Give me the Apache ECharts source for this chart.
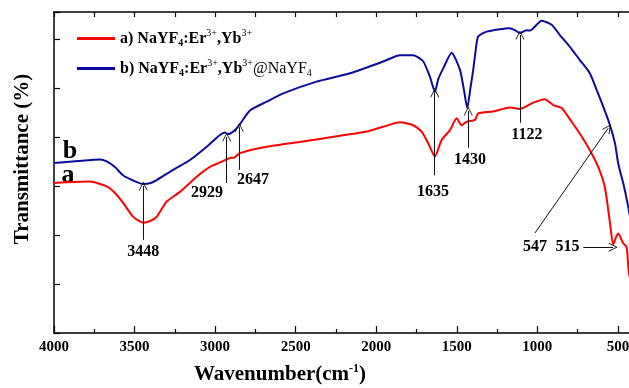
<!DOCTYPE html>
<html lang="en">
<head>
    <meta charset="UTF-8">
    <title>FTIR</title>
    <style>
        html,body{
            height: 100%;
        }
        body{
            margin: 0;
            padding: 0;
            background: #fff;
        }
        #chart_ftir{
            width: 629px;
            height: 388px;
        }
    </style>
</head>
<body>
    <div id="chart_ftir"></div>
</body>
</html>
<script src="https://cdn.jsdelivr.net/npm/echarts@6/dist/echarts.min.js"></script>
<script>
    // wavenumber ticks (cm-1)
    var majorTicks = [500, 1000, 1500, 2000, 2500, 3000, 3500, 4000];
    var minorTicks = [750, 1250, 1750, 2250, 2750, 3250, 3750];
    var allTicks = majorTicks.concat(minorTicks);

    // a) NaYF4:Er,Yb  [wavenumber, transmittance]
    var curveA = [
        [4000, 30.6], [3777, 30.9], [3673, 29.9], [3620, 28.5], [3570, 26.5], [3508, 23.7],
        [3446, 22.5], [3400, 22.9], [3363, 23.7], [3301, 26.8], [3218, 28.8], [3114, 31.9],
        [3032, 33.9], [2970, 34.8], [2908, 35.7], [2880, 35.8], [2846, 36.7], [2680, 38.0],
        [2370, 39.5], [2059, 41.1], [1956, 42.1], [1853, 43.0], [1770, 42.4], [1718, 41.1],
        [1677, 38.7], [1636, 36.0], [1594, 39.4], [1542, 41.4], [1501, 43.8], [1470, 42.4],
        [1439, 43.1], [1387, 43.5], [1367, 44.8], [1274, 45.2], [1170, 46.0], [1108, 45.7],
        [1025, 47.0], [953, 47.7], [901, 46.5], [849, 45.9], [787, 43.1], [725, 40.1],
        [674, 37.3], [622, 33.9], [580, 29.6], [549, 22.4], [529, 18.0], [512, 19.5],
        [498, 20.3], [467, 18.3], [446, 17.6], [432, 12.4], [400, 8.0]
    ];

    // b) NaYF4:Er,Yb@NaYF4
    var curveB = [
        [4000, 34.7], [3850, 35.1], [3714, 35.4], [3673, 35.0], [3620, 33.8], [3572, 32.2],
        [3500, 31.0], [3446, 30.4], [3400, 30.6], [3363, 31.2], [3260, 33.3], [3156, 35.3],
        [3052, 38.0], [2970, 40.4], [2939, 40.9], [2918, 40.6], [2880, 41.3], [2850, 42.4],
        [2784, 45.4], [2680, 47.2], [2577, 48.9], [2370, 51.3], [2163, 53.0], [1956, 55.4],
        [1853, 56.7], [1770, 56.7], [1708, 55.4], [1667, 52.3], [1650, 50.5], [1636, 49.2],
        [1615, 51.8], [1584, 54.0], [1532, 57.2], [1480, 53.7], [1455, 49.5], [1435, 45.9],
        [1415, 50.0], [1398, 53.7], [1377, 59.1], [1367, 60.5], [1315, 61.5], [1170, 62.2],
        [1139, 61.8], [1108, 61.2], [1067, 61.8], [1046, 61.7], [973, 63.7], [911, 62.9],
        [860, 60.8], [798, 58.4], [736, 55.7], [674, 53.0], [632, 49.6], [591, 46.2],
        [549, 42.4], [518, 38.7], [498, 34.6], [467, 30.6], [436, 25.8], [400, 19.0]
    ];

    // peak annotations
    var noteText = ['3448', '2929', '2647', '1635', '1430', '1122', '547', '515'];
    var noteAt = [[3446, 16.5], [3050, 28.6], [2765, 31.2], [1648, 28.8], [1418, 35.3], [1065, 40.4], [1015, 17.6], [812, 17.6]];
    var arrowFrom = [[3446, 19.0], [2928, 30.6], [2850, 33.3], [1637, 32.2], [1429, 37.8], [1108, 42.9], [1015, 20.4], [715, 17.5]];
    var arrowTo = [[3446, 30.0], [2928, 40.0], [2850, 42.0], [1637, 49.0], [1429, 45.3], [1108, 60.8], [560, 41.8], [529, 17.5]];
    var curveTags = [['a', 3913, 32.2], ['b', 3901, 37.0]];

    var nameA = 'a';
    var nameB = 'b';
    var FONT = "'Liberation Serif', 'Times New Roman', serif";

    var richText = {
        t: {fontFamily: FONT, fontWeight: 'bold', fontSize: 16, color: '#000', lineHeight: 22},
        n: {fontFamily: FONT, fontWeight: 'normal', fontSize: 16, color: '#000', lineHeight: 22},
        sup: {fontFamily: FONT, fontWeight: 'normal', fontSize: 10, color: '#000', padding: [0, 0, 11, 0]},
        sub: {fontFamily: FONT, fontWeight: 'bold', fontSize: 10, color: '#000', padding: [9, 0, 0, 0]},
        bsub: {fontFamily: FONT, fontWeight: 'normal', fontSize: 10, color: '#000', padding: [9, 0, 0, 0]}
    };

    var legendLabel = {};
    legendLabel[nameA] = '{t|a) NaYF}{sub|4}{t|:Er}{sup|3+}{t|,Yb}{sup|3+}';
    legendLabel[nameB] = '{t|b) NaYF}{sub|4}{t|:Er}{sup|3+}{t|,Yb}{sup|3+}{n|@NaYF}{bsub|4}';

    var notePoints = noteText.map(function (t, i) {
        return [noteAt[i][0], noteAt[i][1], t];
    });
    curveTags.forEach(function (c) {
        notePoints.push({value: [c[1], c[2], c[0]], label: {fontSize: 26}});
    });
    var arrows = arrowFrom.map(function (p, i) {
        return [{coord: p}, {coord: arrowTo[i]}];
    });

    var axisLineStyle = {color: '#000', width: 1.5};

    var myChart = echarts.init(document.getElementById('chart_ftir'));

    myChart.setOption({
        animation: false,
        grid: {
            left: 54,
            right: -5,
            top: 12,
            bottom: 55,
            outerBoundsMode: 'none'
        },
        legend: {
            orient: 'vertical',
            left: 72,
            top: 23,
            itemWidth: 38,
            itemHeight: 3,
            itemGap: 10,
            icon: 'rect',
            data: [nameA, nameB],
            formatter: function (name) {
                return legendLabel[name];
            },
            textStyle: {
                fontFamily: FONT,
                fontWeight: 'bold',
                fontSize: 16,
                color: '#000',
                rich: richText
            }
        },
        xAxis: [{
            type: 'value',
            inverse: true,
            min: 400,
            max: 4000,
            position: 'bottom',
            axisLine: {lineStyle: axisLineStyle},
            axisTick: {inside: true, length: 7, customValues: majorTicks, lineStyle: {color: '#000', width: 1.2}},
            axisLabel: {
                customValues: majorTicks,
                formatter: function (v) {
                    return String(v);
                },
                margin: 7,
                fontFamily: FONT,
                fontWeight: 'bold',
                fontSize: 15,
                color: '#000'
            },
            splitLine: {show: false},
            name: '{t|Wavenumber(cm}{s|-1}{t|)}',
            nameLocation: 'middle',
            nameGap: 30,
            nameTextStyle: {
                padding: [0, 128, 0, 0],
                rich: {
                    t: {fontFamily: FONT, fontWeight: 'bold', fontSize: 21, color: '#000'},
                    s: {fontFamily: FONT, fontWeight: 'bold', fontSize: 12, color: '#000', padding: [0, 0, 12, 0]}
                }
            }
        }, {
            type: 'value',
            inverse: true,
            min: 400,
            max: 4000,
            position: 'bottom',
            axisLine: {show: false},
            axisTick: {inside: true, length: 4, customValues: minorTicks, lineStyle: {color: '#000', width: 1.2}},
            axisLabel: {show: false},
            splitLine: {show: false}
        }, {
            type: 'value',
            inverse: true,
            min: 400,
            max: 4000,
            position: 'top',
            axisLine: {lineStyle: axisLineStyle},
            axisTick: {inside: true, length: 5, customValues: allTicks, lineStyle: {color: '#000', width: 1.2}},
            axisLabel: {show: false},
            splitLine: {show: false}
        }],
        yAxis: {
            type: 'value',
            min: 0,
            max: 65.5,
            interval: 10,
            axisLine: {show: true, lineStyle: axisLineStyle},
            axisTick: {show: true, inside: true, length: 6, lineStyle: {color: '#000', width: 1.2}},
            axisLabel: {show: false},
            splitLine: {show: false},
            name: 'Transmittance (%)',
            nameLocation: 'middle',
            nameGap: 21,
            nameTextStyle: {
                fontFamily: FONT,
                fontWeight: 'bold',
                fontSize: 21,
                color: '#000',
                padding: [0, 0, 0, 27]
            }
        },
        series: [{
            name: nameA,
            type: 'line',
            data: curveA,
            color: '#ff0000',
            symbol: 'none',
            smooth: 0.2,
            lineStyle: {width: 2, color: '#ff0000'}
        }, {
            name: nameB,
            type: 'line',
            data: curveB,
            color: '#0b0b9e',
            symbol: 'none',
            smooth: 0.2,
            lineStyle: {width: 2, color: '#0b0b9e'}
        }, {
            name: 'notes',
            type: 'scatter',
            data: notePoints,
            symbolSize: 0,
            silent: true,
            itemStyle: {opacity: 1},
            label: {
                show: true,
                position: 'inside',
                formatter: function (p) {
                    return p.value[2];
                },
                fontFamily: FONT,
                fontWeight: 'bold',
                fontSize: 16,
                color: '#000',
                opacity: 1
            },
            markLine: {
                silent: true,
                symbol: ['none', 'path://M0,10 L5,0 L10,10 L9,10 L5,2 L1,10 Z'],
                symbolSize: [9, 9],
                lineStyle: {color: '#111', width: 1, type: 'solid', opacity: 1},
                label: {show: false},
                data: arrows
            }
        }]
    });
</script>
